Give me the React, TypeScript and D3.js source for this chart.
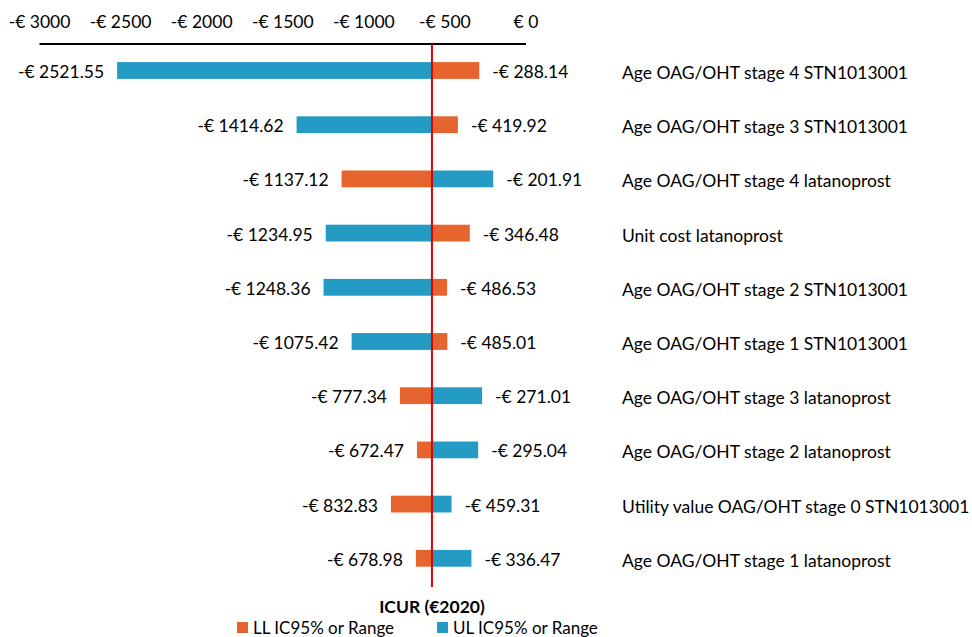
import React from "react";
import * as d3 from "d3";

// tornado chart: ICUR sensitivity, base value where bars meet
const categories = [
  "Age OAG/OHT stage 4 STN1013001",
  "Age OAG/OHT stage 3 STN1013001",
  "Age OAG/OHT stage 4 latanoprost",
  "Unit cost latanoprost",
  "Age OAG/OHT stage 2 STN1013001",
  "Age OAG/OHT stage 1 STN1013001",
  "Age OAG/OHT stage 3 latanoprost",
  "Age OAG/OHT stage 2 latanoprost",
  "Utility value OAG/OHT stage 0 STN1013001",
  "Age OAG/OHT stage 1 latanoprost",
];
// lower limit (orange) and upper limit (blue) values
const llValues = [-288.14, -419.92, -1137.12, -346.48, -486.53, -485.01, -777.34, -672.47, -832.83, -678.98];
const ulValues = [-2521.55, -1414.62, -201.91, -1234.95, -1248.36, -1075.42, -271.01, -295.04, -459.31, -336.47];
const baseValue = -580;
const tickValues = [-3000, -2500, -2000, -1500, -1000, -500, 0];

const width = 972;
const height = 637;
const orange = "#E6642D";
const blue = "#239BC5";
const font = "Lato, 'Open Sans', sans-serif";

const fmt = (v: number) => {
  const s = Math.abs(v) % 1 === 0 ? String(Math.abs(v)) : Math.abs(v).toFixed(2);
  return (v < 0 ? "-€ " : "€ ") + s;
};

export default function App() {
  const x = d3.scaleLinear().domain([-3000, 0]).range([39.5, 526]);
  const y = d3.scaleBand<string>().domain(categories).range([43.4, 585.4]).paddingInner(0.69).paddingOuter(0.345);
  const bh = y.bandwidth();

  return (
    <svg width={width} height={height} style={{ position: "absolute", left: 0, top: 0 }}>
      <g fontFamily={font} fontSize={17.5} fill="#000">
        {tickValues.map((t) => (
          <text key={t} x={x(t)} y={21} textAnchor="middle" dominantBaseline="central">
            {fmt(t)}
          </text>
        ))}
        <line x1={x(-3000)} x2={x(0)} y1={44} y2={44} stroke="#000" strokeWidth={2} />

        {categories.map((c, i) => {
          const cy = (y(c) as number) + bh / 2;
          const vals = [
            { v: llValues[i], color: orange },
            { v: ulValues[i], color: blue },
          ];
          return (
            <g key={c}>
              {vals.map((d, j) => {
                const x0 = Math.min(x(d.v), x(baseValue));
                const w = Math.abs(x(d.v) - x(baseValue));
                const left = d.v < baseValue;
                return (
                  <g key={j}>
                    <rect x={x0} y={cy - bh / 2} width={w} height={bh} fill={d.color} />
                    <text
                      x={left ? x(d.v) - 13 : x(d.v) + 13}
                      y={cy + 1}
                      textAnchor={left ? "end" : "start"}
                      dominantBaseline="central"
                    >
                      {fmt(d.v)}
                    </text>
                  </g>
                );
              })}
              <text x={622} y={cy + 2} dominantBaseline="central">
                {c}
              </text>
            </g>
          );
        })}

        <line x1={x(baseValue)} x2={x(baseValue)} y1={44} y2={587} stroke="#E00000" strokeWidth={2} />

        <text x={x(baseValue)} y={606} textAnchor="middle" dominantBaseline="central" fontWeight="bold">
          ICUR (€2020)
        </text>
        <g fontSize={17}>
          <rect x={237} y={622} width={11} height={11} fill={orange} />
          <text x={253} y={627} dominantBaseline="central">LL IC95% or Range</text>
          <rect x={437} y={622} width={11} height={11} fill={blue} />
          <text x={453} y={627} dominantBaseline="central">UL IC95% or Range</text>
        </g>
      </g>
    </svg>
  );
}
